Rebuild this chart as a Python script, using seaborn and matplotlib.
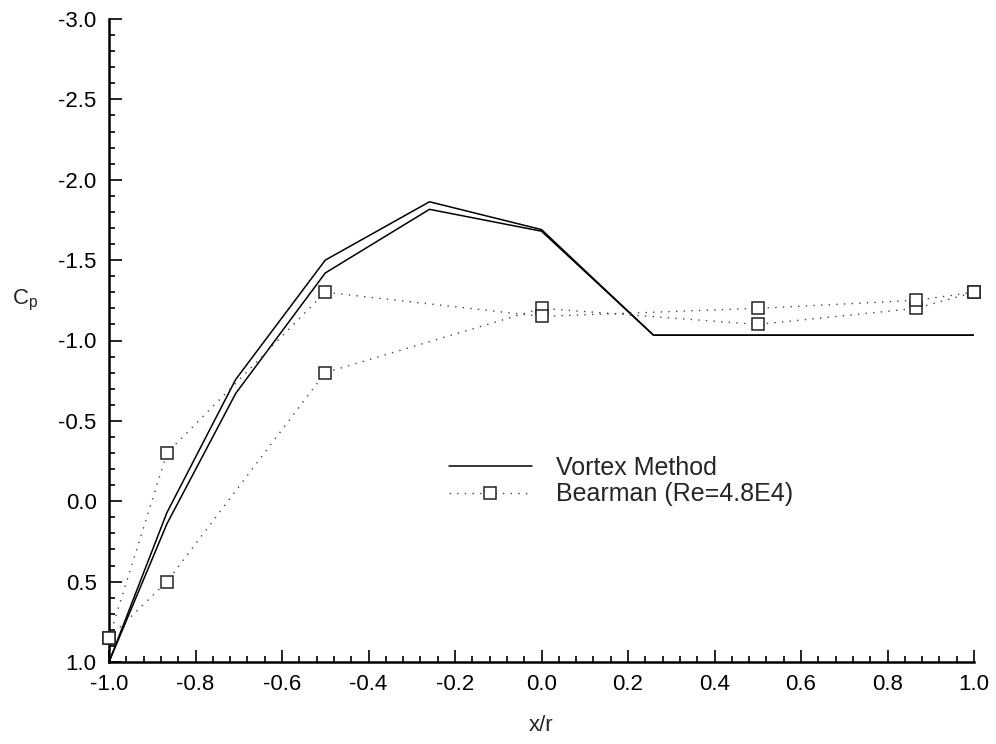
import numpy as np
import pandas as pd
import matplotlib
matplotlib.use("Agg")
import matplotlib.pyplot as plt
from matplotlib.ticker import MultipleLocator, FormatStrFormatter
from matplotlib.lines import Line2D
import seaborn as sns

# Surface stations x/r (cosine spacing around the body)
x_vortex = [-1.0, -0.866, -0.707, -0.5, -0.259, 0.0, 0.259, 0.5, 0.707, 0.866, 1.0]
cp_vortex_upper = [1.0, 0.07, -0.758, -1.50, -1.863, -1.69, -1.033,
                   -1.033, -1.033, -1.033, -1.033]
cp_vortex_lower = [1.0, 0.14, -0.671, -1.42, -1.816, -1.68, -1.033,
                   -1.033, -1.033, -1.033, -1.033]

# Bearman experiment, Re = 4.8E4
x_exp = [-1.0, -0.866, -0.5, 0.0, 0.5, 0.866, 1.0]
cp_exp_upper = [0.85, -0.30, -1.30, -1.15, -1.20, -1.25, -1.30]
cp_exp_lower = [0.85, 0.50, -0.80, -1.20, -1.10, -1.20, -1.30]

x_ticks = [-1.0, -0.8, -0.6, -0.4, -0.2, 0.0, 0.2, 0.4, 0.6, 0.8, 1.0]
y_ticks = [1.0, 0.5, 0.0, -0.5, -1.0, -1.5, -2.0, -2.5, -3.0]

sns.set_style("ticks")
plt.rcParams["font.family"] = ["Liberation Sans", "DejaVu Sans"]
plt.rcParams["axes.unicode_minus"] = False
plt.rcParams["mathtext.fontset"] = "custom"
plt.rcParams["mathtext.rm"] = "Liberation Sans"

fig = plt.figure(figsize=(9.96, 7.44), dpi=100)
ax = fig.add_axes([109 / 996, 1 - 662 / 744, (974 - 109) / 996, (662 - 19) / 744])

vortex = pd.concat([
    pd.DataFrame({"x": x_vortex, "cp": cp_vortex_upper, "side": "upper"}),
    pd.DataFrame({"x": x_vortex, "cp": cp_vortex_lower, "side": "lower"}),
])
exp = pd.concat([
    pd.DataFrame({"x": x_exp, "cp": cp_exp_upper, "side": "upper"}),
    pd.DataFrame({"x": x_exp, "cp": cp_exp_lower, "side": "lower"}),
])

sns.lineplot(data=vortex, x="x", y="cp", units="side", estimator=None, sort=False,
             color="black", linewidth=1.1, ax=ax, legend=False)
sns.lineplot(data=exp, x="x", y="cp", units="side", estimator=None, sort=False,
             color="#444444", linewidth=1.0, linestyle=(0, (1, 4.5)),
             marker="s", markersize=8.5, markerfacecolor="white",
             markeredgecolor="#222222", markeredgewidth=1.1, ax=ax, legend=False,
             clip_on=False, zorder=3)

ax.set_xlim(-1.0, 1.0)
ax.set_ylim(1.0, -3.0)
ax.set_xticks(x_ticks)
ax.set_yticks(y_ticks)
ax.xaxis.set_minor_locator(MultipleLocator(0.04))
ax.yaxis.set_minor_locator(MultipleLocator(0.1))
ax.xaxis.set_major_formatter(FormatStrFormatter("%.1f"))
ax.yaxis.set_major_formatter(FormatStrFormatter("%.1f"))

for side in ("top", "right"):
    ax.spines[side].set_visible(False)
for side in ("left", "bottom"):
    ax.spines[side].set_linewidth(1.8)
    ax.spines[side].set_color("black")

ax.tick_params(which="major", direction="in", length=9, width=1.2, labelsize=16,
               pad=9, colors="black")
ax.tick_params(which="minor", direction="in", length=4.5, width=1.2, colors="black")

ax.set_xlabel("x/r", fontsize=16, labelpad=14)
ax.set_ylabel(r"C$_\mathregular{p}$", fontsize=16, rotation=0, labelpad=0,
              va="center", ha="center")
ax.yaxis.set_label_coords(-0.097, 0.563)

handles = [
    Line2D([], [], color="black", linewidth=1.1),
    Line2D([], [], color="#444444", linewidth=1.0, linestyle=(0, (1, 4.5)),
           marker="s", markersize=8.5, markerfacecolor="white",
           markeredgecolor="#222222", markeredgewidth=1.1),
]
fig.legend(handles, ["Vortex Method", "Bearman (Re=4.8E4)"],
           loc="center left", bbox_to_anchor=(449 / 996, 1 - 481 / 744),
           frameon=False, fontsize=18, handlelength=3.3, handletextpad=1.0,
           labelspacing=0.1, borderpad=0, numpoints=1, borderaxespad=0)

fig.savefig("out.png", dpi=100, facecolor="white")
